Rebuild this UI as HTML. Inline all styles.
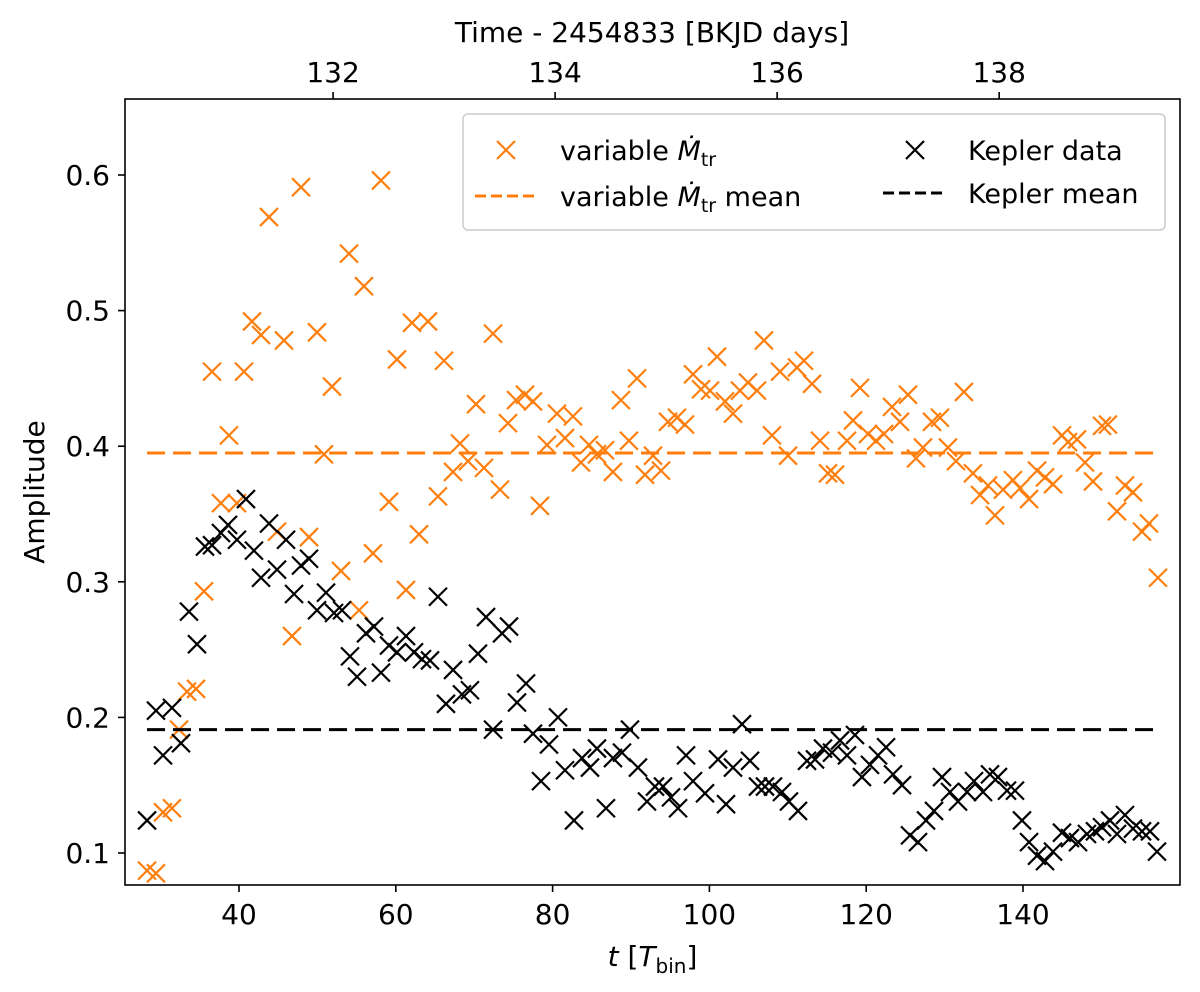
<!DOCTYPE html>
<html><head><meta charset="utf-8"><style>
html,body{margin:0;padding:0;background:#fff;}
svg{display:block;font-family:"DejaVu Sans","Liberation Sans",sans-serif;}
</style></head><body>
<svg id="chart" width="1200" height="992" viewBox="0 0 1200 992" xmlns="http://www.w3.org/2000/svg">
<rect x="0" y="0" width="1200" height="992" fill="#fff"/>
<g id="marks"></g>
<g id="axes"></g>
<g id="legend">
  <rect x="463" y="114" width="702" height="116" rx="5" fill="#fff" fill-opacity="0.8" stroke="#ccc" stroke-width="1.5"/>
  <g>
    <path d="M497,141 L515,159 M515,141 L497,159" stroke="#ff7f0e" stroke-width="2.2"/>
    <text x="560" y="160" font-size="27">variable <tspan font-style="italic">Ṁ</tspan><tspan font-size="19" dy="6">tr</tspan></text>
  </g>
  <g>
    <path d="M475,196 L535,196" stroke="#ff7f0e" stroke-width="3" stroke-dasharray="11,5"/>
    <text x="560" y="206" font-size="27">variable <tspan font-style="italic">Ṁ</tspan><tspan font-size="19" dy="6">tr</tspan><tspan dy="-6"> mean</tspan></text>
  </g>
  <g>
    <path d="M906,141 L924,159 M924,141 L906,159" stroke="#000" stroke-width="2.2"/>
    <text x="968" y="160" font-size="27">Kepler data</text>
  </g>
  <g>
    <path d="M883,193 L943,193" stroke="#000" stroke-width="3" stroke-dasharray="11,5"/>
    <text x="968" y="203" font-size="27">Kepler mean</text>
  </g>
</g>
</svg>
<script>
const orangeT=[28.27,29.41,30.31,31.45,32.35,33.37,34.52,35.54,36.56,37.70,38.72,39.74,40.64,41.66,42.81,43.83,44.85,45.74,46.76,47.91,48.93,49.95,50.84,51.86,53.01,54.03,55.31,55.94,57.09,58.11,59.13,60.15,61.30,62.07,62.96,64.11,65.38,66.15,67.30,68.19,69.21,70.23,71.25,72.40,73.29,74.31,75.33,76.48,77.50,78.39,79.29,80.56,81.58,82.60,83.62,84.64,85.66,86.68,87.70,88.72,89.74,90.77,91.79,92.81,93.83,94.72,95.87,96.89,97.91,98.93,100.08,100.97,101.99,103.01,103.90,104.92,106.07,106.96,107.98,109.01,110.03,111.17,112.07,113.09,114.11,115.13,116.02,117.55,118.32,119.21,120.23,121.25,122.27,123.29,124.31,125.33,126.35,127.24,128.39,129.41,130.43,131.45,132.47,133.62,134.52,135.54,136.43,137.45,138.72,139.62,140.77,141.79,142.81,143.83,144.97,145.74,146.89,147.91,148.93,150.08,150.84,151.99,153.01,154.03,155.18,156.07,157.22];
const orangeV=[0.087,0.085,0.130,0.133,0.191,0.219,0.221,0.293,0.455,0.358,0.408,0.358,0.455,0.492,0.482,0.569,0.337,0.478,0.260,0.591,0.333,0.484,0.394,0.444,0.308,0.542,0.279,0.518,0.321,0.596,0.359,0.464,0.294,0.491,0.335,0.492,0.363,0.463,0.381,0.402,0.389,0.431,0.384,0.483,0.368,0.417,0.434,0.438,0.433,0.356,0.401,0.424,0.406,0.422,0.388,0.401,0.394,0.397,0.381,0.434,0.404,0.450,0.379,0.393,0.382,0.418,0.421,0.416,0.453,0.442,0.441,0.466,0.433,0.424,0.441,0.447,0.441,0.478,0.408,0.455,0.393,0.458,0.463,0.446,0.404,0.380,0.379,0.404,0.419,0.443,0.409,0.404,0.409,0.429,0.418,0.438,0.391,0.399,0.418,0.421,0.399,0.389,0.440,0.380,0.364,0.371,0.349,0.368,0.375,0.369,0.361,0.382,0.377,0.372,0.408,0.403,0.405,0.388,0.374,0.415,0.416,0.352,0.371,0.366,0.337,0.343,0.303];
const keplerT=[28.27,29.41,30.31,31.45,32.60,33.62,34.64,35.66,36.56,37.70,38.60,39.74,40.89,41.91,42.81,43.83,44.85,46.00,47.02,47.91,48.93,49.95,51.10,52.12,53.14,54.16,55.05,56.20,57.22,58.11,59.13,60.15,61.30,62.32,63.34,64.36,65.38,66.40,67.30,68.44,69.46,70.48,71.51,72.40,73.55,74.44,75.46,76.61,77.50,78.52,79.54,80.69,81.58,82.73,83.75,84.77,85.66,86.81,87.70,88.85,89.87,90.89,92.04,93.06,94.08,95.10,96.00,97.02,97.91,99.44,101.10,102.12,103.01,104.16,105.18,106.20,107.09,108.11,109.26,110.15,111.30,112.45,113.47,114.49,115.64,116.66,117.55,118.57,119.46,120.48,121.51,122.53,123.42,124.57,125.59,126.61,127.63,128.65,129.67,130.69,131.71,132.86,133.75,134.90,135.79,136.81,137.96,138.98,139.87,140.77,141.79,142.81,143.83,144.97,145.99,147.02,148.16,149.18,150.08,151.10,151.99,153.01,154.03,155.18,156.20,157.09];
const keplerV=[0.124,0.205,0.172,0.207,0.181,0.278,0.254,0.326,0.327,0.336,0.342,0.331,0.361,0.323,0.303,0.343,0.309,0.331,0.291,0.312,0.317,0.279,0.292,0.277,0.279,0.245,0.230,0.262,0.267,0.233,0.253,0.248,0.260,0.248,0.243,0.242,0.289,0.210,0.235,0.217,0.220,0.247,0.274,0.191,0.262,0.267,0.211,0.225,0.188,0.153,0.180,0.200,0.161,0.124,0.170,0.163,0.177,0.133,0.170,0.174,0.191,0.163,0.138,0.149,0.149,0.141,0.133,0.172,0.153,0.144,0.169,0.136,0.163,0.195,0.168,0.149,0.149,0.149,0.145,0.138,0.131,0.168,0.169,0.177,0.174,0.183,0.172,0.187,0.156,0.165,0.172,0.178,0.158,0.150,0.113,0.108,0.124,0.131,0.156,0.145,0.138,0.145,0.153,0.145,0.158,0.156,0.146,0.146,0.124,0.108,0.098,0.094,0.101,0.115,0.111,0.108,0.114,0.116,0.119,0.124,0.114,0.128,0.118,0.116,0.116,0.101];
const orangeMean=0.395;
const keplerMean=0.191;
const meanRange=[28.27,157.22];
const xTicks=[40,60,80,100,120,140];
const yTicks=[0.1,0.2,0.3,0.4,0.5,0.6];
const topTicks=[132,134,136,138];

const L=125,R=1180,T=99,B=885;
function xs(t){return 239+(t-40)*7.84;}
function ys(v){return 853-(v-0.1)*1356;}
function dayToT(d){return 52+(d-132)*14.16;}
const NS='http://www.w3.org/2000/svg';
function mk(tag,attrs,parent){const e=document.createElementNS(NS,tag);for(const k in attrs)e.setAttribute(k,attrs[k]);parent.appendChild(e);return e;}
const marks=document.getElementById('marks');
const axes=document.getElementById('axes');

function hline(v,color,name){
  const l=mk('line',{x1:xs(meanRange[0]),x2:xs(meanRange[1]),y1:ys(v),y2:ys(v),stroke:color,'stroke-width':3,'stroke-dasharray':'18,8'},marks);
  
  
}
function scatter(ts,vs,color,name){
  for(let i=0;i<ts.length;i++){
    const x=xs(ts[i]),y=ys(vs[i]),s=9;
    const p=mk('path',{d:`M${x-s},${y-s}L${x+s},${y+s}M${x+s},${y-s}L${x-s},${y+s}`,stroke:color,'stroke-width':2.2,fill:'none'},marks);
    
    
  }
}
hline(orangeMean,'#ff7f0e','variable-mtr-mean-line');
scatter(orangeT,orangeV,'#ff7f0e','variable-mtr-point');
scatter(keplerT,keplerV,'#000','kepler-data-point');
hline(keplerMean,'#000','kepler-mean-line');

const frame=mk('rect',{x:L,y:T,width:R-L,height:B-T,fill:'none',stroke:'#000','stroke-width':1.6},axes);


xTicks.forEach(t=>{
  const x=xs(t);
  mk('line',{x1:x,x2:x,y1:B,y2:B+7,stroke:'#000','stroke-width':1.6},axes);
  const tx=mk('text',{x:x,y:B+39,'font-size':28,'text-anchor':'middle'},axes);
  tx.textContent=t;
  
  
});
yTicks.forEach(v=>{
  const y=ys(v);
  mk('line',{x1:L-7,x2:L,y1:y,y2:y,stroke:'#000','stroke-width':1.6},axes);
  const tx=mk('text',{x:L-15,y:y+10,'font-size':28,'text-anchor':'end'},axes);
  tx.textContent=v.toFixed(1);
  
  
});
topTicks.forEach(d=>{
  const x=xs(dayToT(d));
  mk('line',{x1:x,x2:x,y1:T-7,y2:T,stroke:'#000','stroke-width':1.6},axes);
  const tx=mk('text',{x:x,y:T-17,'font-size':28,'text-anchor':'middle'},axes);
  tx.textContent=d;
  
  
});
const xt=mk('text',{x:(L+R)/2,y:966,'font-size':28,'text-anchor':'middle'},axes);
xt.innerHTML='<tspan font-style="italic">t</tspan> [<tspan font-style="italic">T</tspan><tspan font-size="20" dy="7">bin</tspan><tspan dy="-7">]</tspan>';


const yt=mk('text',{x:44,y:492,'font-size':28,'text-anchor':'middle',transform:'rotate(-90 44 492)'},axes);
yt.textContent='Amplitude';


const tt=mk('text',{x:652,y:42,'font-size':28,'text-anchor':'middle'},axes);
tt.textContent='Time - 2454833 [BKJD days]';


</script>
</body></html>
